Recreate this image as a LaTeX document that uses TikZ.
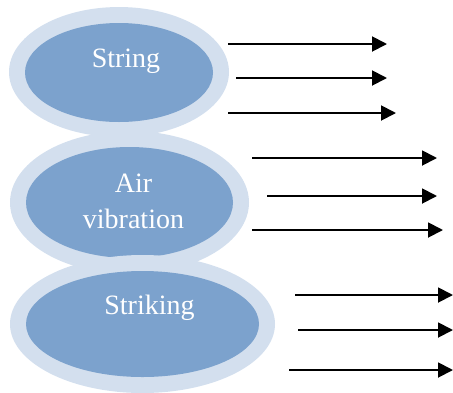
\documentclass[tikz,border=0pt]{standalone}
\usepackage{fontspec}
\setmainfont{Liberation Serif}
\usetikzlibrary{shapes.geometric,arrows.meta}
\definecolor{ringc}{RGB}{211,223,238}
\definecolor{innerc}{RGB}{124,162,205}
\tikzset{
  ring/.style={ellipse, fill=ringc, draw=none, inner sep=0pt},
  core/.style={ellipse, fill=innerc, draw=none, inner sep=0pt},
  lbl/.style={text=white, font=\fontsize{28}{36}\selectfont, inner sep=0pt, anchor=base, align=center},
  arr/.style={line width=1.9pt, -{Triangle[length=15pt,width=15pt]}}
}
\begin{document}
\begin{tikzpicture}[x=1pt,y=-1pt]
\useasboundingbox (0,0) rectangle (453,392);
% String
\node[ring, minimum width=220pt, minimum height=130pt] (r1) at (119,72) {};
\node[core, minimum width=188pt, minimum height=99pt] (c1) at (119,72.5) {};
% Air vibration
\node[ring, minimum width=239pt, minimum height=143pt] (r2) at (129.5,202.5) {};
\node[core, minimum width=207pt, minimum height=111pt] (c2) at (129.5,202.5) {};
% Striking
\node[ring, minimum width=265pt, minimum height=138pt] (r3) at (142.5,324) {};
\node[core, minimum width=233pt, minimum height=106pt] (c3) at (142.5,324) {};
% labels
\node[lbl] (t1) at (126,67) {String};
\node[lbl, anchor=center] (t2) at (133.5,201) {Air\\vibration};
\node[lbl] (t3) at (149.5,314) {Striking};
% arrows
\coordinate (a1s) at (228,44);  \coordinate (a1e) at (387,44);
\coordinate (a2s) at (236,78);  \coordinate (a2e) at (387,78);
\coordinate (a3s) at (228,113); \coordinate (a3e) at (396,113);
\coordinate (a4s) at (252,158); \coordinate (a4e) at (437,158);
\coordinate (a5s) at (267,196); \coordinate (a5e) at (437,196);
\coordinate (a6s) at (252,230); \coordinate (a6e) at (443,230);
\coordinate (a7s) at (295,295); \coordinate (a7e) at (453,295);
\coordinate (a8s) at (298,330); \coordinate (a8e) at (453,330);
\coordinate (a9s) at (289,370); \coordinate (a9e) at (453,370);
\foreach \i in {1,...,9} { \draw[arr] (a\i s) -- (a\i e); }
\end{tikzpicture}
\end{document}
